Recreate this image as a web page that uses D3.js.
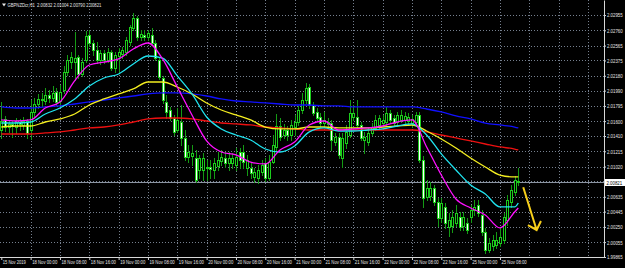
<!DOCTYPE html>
<html>
<head>
<meta charset="utf-8">
<script src="https://cdn.jsdelivr.net/npm/d3@7"></script>
<style>
  html, body { margin: 0; padding: 0; background: #000; }
  svg { display: block; }
  text { font-family: "Liberation Sans", Arial, sans-serif; }
</style>
</head>
<body>
<script>
// GBPNZDcr H1 bars, one row per hour: [open, high, low, close]
var candles = [
  [2.01487,2.01845,2.01385,2.01602], [2.01628,2.01666,2.01474,2.01525], [2.01525,2.01602,2.01462,2.01564], [2.01564,2.01602,2.01398,2.01538],
  [2.01525,2.01640,2.01449,2.01589], [2.01589,2.01628,2.01487,2.01564], [2.01551,2.01653,2.01500,2.01602], [2.01602,2.01628,2.01385,2.01449],
  [2.01487,2.01870,2.01372,2.01717], [2.01717,2.01896,2.01666,2.01819], [2.01819,2.01947,2.01768,2.01883], [2.01883,2.01960,2.01794,2.01870],
  [2.01857,2.02023,2.01819,2.01934], [2.01934,2.01998,2.01845,2.01896], [2.01896,2.02049,2.01857,2.01960], [2.01972,2.02023,2.01806,2.01845],
  [2.01857,2.02062,2.01819,2.01972], [2.01998,2.02304,2.01960,2.02228], [2.02228,2.02445,2.02190,2.02381], [2.02355,2.02483,2.02279,2.02419],
  [2.02355,2.02738,2.02125,2.02406], [2.02419,2.02445,2.02151,2.02202], [2.02202,2.02406,2.02177,2.02355], [2.02381,2.02751,2.02355,2.02687],
  [2.02700,2.02764,2.02560,2.02598], [2.02598,2.02636,2.02445,2.02509], [2.02509,2.02611,2.02343,2.02381], [2.02381,2.02509,2.02330,2.02470],
  [2.02470,2.02509,2.02343,2.02381], [2.02381,2.02534,2.02355,2.02483], [2.02483,2.02509,2.02253,2.02279], [2.02279,2.02483,2.02228,2.02445],
  [2.02432,2.02534,2.02228,2.02483], [2.02457,2.02547,2.02406,2.02509], [2.02483,2.02675,2.02445,2.02636], [2.02611,2.02828,2.02572,2.02802],
  [2.02789,2.02981,2.02764,2.02917], [2.02917,2.02943,2.02636,2.02675], [2.02675,2.02764,2.02636,2.02713], [2.02700,2.02764,2.02636,2.02675],
  [2.02675,2.02764,2.02636,2.02726], [2.02700,2.02789,2.02572,2.02598], [2.02598,2.02636,2.02381,2.02406], [2.02381,2.02406,2.02138,2.02164],
  [2.02151,2.02177,2.01832,2.01870], [2.01845,2.01934,2.01640,2.01717], [2.01742,2.01781,2.01615,2.01640], [2.01640,2.01679,2.01423,2.01462],
  [2.01487,2.01768,2.01462,2.01615], [2.01589,2.01806,2.01296,2.01385], [2.01385,2.01487,2.01104,2.01142], [2.01142,2.01296,2.01078,2.01206],
  [2.01155,2.01296,2.01040,2.01193], [2.01130,2.01232,2.00823,2.00849], [2.00976,2.01168,2.00874,2.01130], [2.00976,2.01193,2.00849,2.01130],
  [2.01015,2.01104,2.00849,2.01002], [2.01015,2.01104,2.00874,2.00989], [2.00976,2.01130,2.00874,2.01066], [2.01027,2.01206,2.00976,2.01104],
  [2.01091,2.01232,2.01040,2.01142], [2.01130,2.01206,2.01015,2.01066], [2.01066,2.01206,2.00976,2.01130], [2.01066,2.01193,2.01002,2.01130],
  [2.01040,2.01257,2.00976,2.01142], [2.01206,2.01257,2.01002,2.01104], [2.01206,2.01296,2.01002,2.01078], [2.01002,2.01168,2.00912,2.01104],
  [2.01002,2.01078,2.00874,2.00938], [2.00887,2.01002,2.00823,2.00951], [2.00874,2.01040,2.00810,2.00976], [2.00951,2.01104,2.00912,2.01040],
  [2.01066,2.01130,2.00836,2.00874], [2.00874,2.01168,2.00849,2.01078], [2.01078,2.01423,2.01066,2.01296], [2.01270,2.01691,2.01232,2.01538],
  [2.01538,2.01640,2.01359,2.01398], [2.01423,2.01564,2.01385,2.01487], [2.01487,2.01538,2.01359,2.01423], [2.01423,2.01615,2.01359,2.01551],
  [2.01525,2.01679,2.01423,2.01589], [2.01589,2.01794,2.01551,2.01742], [2.01742,2.01960,2.01704,2.01870], [2.01870,2.02087,2.01832,2.02023],
  [2.02036,2.02074,2.01768,2.01806], [2.01806,2.01845,2.01679,2.01704], [2.01717,2.01768,2.01615,2.01640], [2.01653,2.01704,2.01525,2.01576],
  [2.01576,2.01717,2.01525,2.01615], [2.01564,2.01640,2.01513,2.01589], [2.01576,2.01615,2.01232,2.01359], [2.01334,2.01449,2.01296,2.01398],
  [2.01398,2.01449,2.01130,2.01168], [2.01130,2.01449,2.01015,2.01385], [2.01321,2.01551,2.01257,2.01462], [2.01423,2.01870,2.01398,2.01704],
  [2.01653,2.01806,2.01615,2.01704], [2.01653,2.01870,2.01525,2.01551], [2.01551,2.01589,2.01359,2.01385], [2.01359,2.01462,2.01193,2.01398],
  [2.01334,2.01513,2.01296,2.01449], [2.01449,2.01576,2.01423,2.01525], [2.01513,2.01679,2.01487,2.01615], [2.01551,2.01679,2.01513,2.01640],
  [2.01576,2.01679,2.01538,2.01615], [2.01589,2.01781,2.01551,2.01704], [2.01704,2.01742,2.01589,2.01615], [2.01640,2.01679,2.01538,2.01576],
  [2.01589,2.01717,2.01551,2.01679], [2.01615,2.01742,2.01589,2.01679], [2.01615,2.01717,2.01564,2.01666], [2.01602,2.01704,2.01551,2.01653],
  [2.01576,2.01679,2.01525,2.01628], [2.01589,2.01717,2.01564,2.01679], [2.01679,2.01717,2.01078,2.01104], [2.01104,2.01155,2.00504,2.00619],
  [2.00631,2.00849,2.00593,2.00746], [2.00644,2.00823,2.00593,2.00746], [2.00746,2.00785,2.00529,2.00568], [2.00568,2.00619,2.00261,2.00363],
  [2.00363,2.00619,2.00312,2.00555], [2.00504,2.00555,2.00236,2.00300], [2.00249,2.00427,2.00134,2.00338], [2.00261,2.00466,2.00185,2.00376],
  [2.00300,2.00529,2.00261,2.00427], [2.00376,2.00440,2.00210,2.00249], [2.00261,2.00440,2.00210,2.00376], [2.00300,2.00363,2.00172,2.00210],
  [2.00376,2.00529,2.00312,2.00466], [2.00466,2.00593,2.00402,2.00504], [2.00529,2.00593,2.00389,2.00427], [2.00402,2.00466,2.00146,2.00185],
  [2.00185,2.00236,1.99917,1.99955], [1.99955,2.00108,1.99929,2.00044], [2.00006,2.00146,1.99955,2.00082], [2.00019,2.00185,1.99980,2.00082],
  [2.00044,2.00236,2.00006,2.00121], [2.00082,2.00427,2.00044,2.00376], [2.00338,2.00657,2.00274,2.00593], [2.00568,2.00785,2.00504,2.00721],
  [2.00695,2.00900,2.00657,2.00849], [2.00832,2.01004,2.00790,2.00821]
];

var symbol = "GBPNZDcr,H1";

// time labels, one every 8 bars
var timeLabels = ["15 Nov 2019", "18 Nov 00:00", "18 Nov 08:00", "18 Nov 16:00", "19 Nov 00:00", "19 Nov 08:00",
  "19 Nov 16:00", "20 Nov 00:00", "20 Nov 08:00", "20 Nov 16:00", "21 Nov 00:00", "21 Nov 08:00",
  "21 Nov 16:00", "22 Nov 00:00", "22 Nov 08:00", "22 Nov 16:00", "25 Nov 00:00", "25 Nov 08:00"];

// price scale labels
var priceTicks = [2.02955, 2.02760, 2.02565, 2.02375, 2.02180, 2.01990, 2.01795, 2.01600, 2.01410,
  2.01215, 2.01020, 2.00830, 2.00635, 2.00445, 2.00250, 2.00055, 1.99865];

// moving averages, read every 4 bars (and the last bar)
var maMagenta = [2.01615, 2.01602, 2.01615, 2.01768, 2.01845, 2.02113, 2.02317, 2.02355, 2.02394, 2.02521,
  2.02598, 2.02394, 2.02036, 2.01679, 2.01347, 2.01206, 2.01168, 2.01078, 2.01053, 2.01232, 2.01334, 2.01551,
  2.01602, 2.01487, 2.01500, 2.01513, 2.01538, 2.01589, 2.01615, 2.01270, 2.00912, 2.00606, 2.00491, 2.00402,
  2.00236, 2.00440, 2.00491];
var maCyan = [2.01576, 2.01576, 2.01589, 2.01691, 2.01768, 2.01883, 2.02049, 2.02151, 2.02202, 2.02330,
  2.02432, 2.02406, 2.02177, 2.01947, 2.01653, 2.01500, 2.01423, 2.01359, 2.01244, 2.01206, 2.01283, 2.01462,
  2.01513, 2.01474, 2.01474, 2.01487, 2.01500, 2.01538, 2.01564, 2.01423, 2.01181, 2.00976, 2.00785, 2.00670,
  2.00504, 2.00504, 2.00555];
var maYellow = [2.01525, 2.01538, 2.01538, 2.01589, 2.01628, 2.01691, 2.01806, 2.01883, 2.01947, 2.02011,
  2.02100, 2.02100, 2.02036, 2.01947, 2.01832, 2.01742, 2.01679, 2.01615, 2.01525, 2.01500, 2.01500, 2.01525,
  2.01525, 2.01513, 2.01513, 2.01513, 2.01525, 2.01538, 2.01551, 2.01474, 2.01372, 2.01257, 2.01130, 2.01015,
  2.00912, 2.00887, 2.00887];
var maBlue = [2.01781, 2.01768, 2.01768, 2.01781, 2.01794, 2.01819, 2.01845, 2.01870, 2.01896, 2.01921,
  2.01947, 2.01960, 2.01960, 2.01947, 2.01921, 2.01883, 2.01857, 2.01845, 2.01832, 2.01819, 2.01806, 2.01806,
  2.01794, 2.01794, 2.01781, 2.01781, 2.01781, 2.01781, 2.01781, 2.01755, 2.01717, 2.01666, 2.01628, 2.01576,
  2.01551, 2.01525, 2.01513];
var maRed = [2.01436, 2.01436, 2.01436, 2.01449, 2.01462, 2.01487, 2.01513, 2.01525, 2.01551, 2.01589,
  2.01628, 2.01640, 2.01640, 2.01628, 2.01602, 2.01576, 2.01564, 2.01551, 2.01525, 2.01513, 2.01500, 2.01487,
  2.01487, 2.01487, 2.01487, 2.01487, 2.01487, 2.01487, 2.01487, 2.01462, 2.01423, 2.01385, 2.01347, 2.01308,
  2.01270, 2.01244, 2.01232];

// hand drawn arrow: [bar, price] at start and tip
var arrowPts = [[142.35, 2.00755], [146.0, 2.00210]];

window.onload = function() {
  var breedte = 625, hoogte = 268;
  var plotR = 604, plotB = 257;
  var n = candles.length;
  var last = candles[n - 1];
  var fmt = d3.format(".5f");

  var svg = d3.select("body").append("svg")
      .attr("width", breedte)
      .attr("height", hoogte)
      .style("background", "#000");

  svg.append("defs").append("clipPath").attr("id", "plot")
    .append("rect").attr("x", 0).attr("y", 0).attr("width", plotR).attr("height", plotB);

  // bar index -> x, price -> y
  var x = d3.scaleLinear().domain([0, n - 1]).range([1.3, 518.3]);
  var y = d3.scaleLinear().domain([1.99865, 2.03147]).range([plotB, 0]);

  var labelBars = d3.range(0, 8 * timeLabels.length, 8);
  var gridBars = d3.range(8, 161, 8);
  var maBars = d3.range(0, n - 1, 4).concat([n - 1]);

  // squeeze small labels horizontally to the narrow terminal font
  function smal(sel, doel) {
    sel.each(function(d, i) {
      var t = d3.select(this);
      var s = doel(d, i) / this.getComputedTextLength();
      var x0 = +t.attr("x") || 0;
      t.attr("x", x0 / s).attr("transform", "scale(" + s + ",1)");
    });
  }

  // grid
  var grid = svg.append("g").attr("clip-path", "url(#plot)")
      .attr("stroke", "#76808f").attr("stroke-dasharray", "1,2")
      .attr("shape-rendering", "crispEdges");
  grid.selectAll("line.v").data(gridBars).enter().append("line")
      .attr("x1", function(d) { return Math.round(x(d)) + 0.5; })
      .attr("x2", function(d) { return Math.round(x(d)) + 0.5; })
      .attr("y1", 0).attr("y2", plotB);
  grid.selectAll("line.h").data(priceTicks).enter().append("line")
      .attr("x1", 0).attr("x2", plotR)
      .attr("y1", function(d) { return Math.round(y(d)) + 0.5; })
      .attr("y2", function(d) { return Math.round(y(d)) + 0.5; });

  // bid line
  svg.append("line")
      .attr("x1", 0).attr("x2", plotR)
      .attr("y1", Math.round(y(last[3])) + 0.5).attr("y2", Math.round(y(last[3])) + 0.5)
      .attr("stroke", "#8c95a3").attr("shape-rendering", "crispEdges");

  // candles
  var bars = svg.append("g").attr("clip-path", "url(#plot)").attr("shape-rendering", "crispEdges");
  bars.selectAll("line").data(candles).enter().append("line")
      .attr("x1", function(d, i) { return Math.round(x(i)) + 0.5; })
      .attr("x2", function(d, i) { return Math.round(x(i)) + 0.5; })
      .attr("y1", function(d) { return Math.round(y(d[1])); })
      .attr("y2", function(d) { return Math.round(y(d[2])) + 1; })
      .attr("stroke", "#149a14");
  bars.selectAll("rect").data(candles).enter().append("rect")
      .attr("x", function(d, i) { return Math.round(x(i)) - 0.5; })
      .attr("y", function(d) { return Math.round(y(Math.max(d[0], d[3]))) + 0.5; })
      .attr("width", 2)
      .attr("height", function(d) {
          return Math.max(0, Math.round(y(Math.min(d[0], d[3]))) - Math.round(y(Math.max(d[0], d[3])))); })
      .attr("fill", function(d) { return d[3] >= d[0] ? "#000" : "#fff"; })
      .attr("stroke", "#1ccc1c");

  // moving averages
  var lijn = d3.line()
      .x(function(d) { return x(d[0]); })
      .y(function(d) { return y(d[1]); })
      .curve(d3.curveMonotoneX);
  var series = [[maRed, "#ee1010"], [maBlue, "#1010ff"], [maYellow, "#f4ee20"], [maCyan, "#20e4f0"], [maMagenta, "#ff10ff"]];
  series.forEach(function(s) {
    svg.append("path")
        .datum(maBars.map(function(b, i) { return [b, s[0][i]]; }))
        .attr("d", lijn)
        .attr("fill", "none")
        .attr("stroke", s[1])
        .attr("stroke-width", 1.3);
  });

  // arrow
  var p0 = [x(arrowPts[0][0]), y(arrowPts[0][1])];
  var p1 = [x(arrowPts[1][0]), y(arrowPts[1][1])];
  var hoek = Math.atan2(p1[1] - p0[1], p1[0] - p0[0]);
  var kop = function(a) { return [p1[0] - 10 * Math.cos(hoek + a), p1[1] - 10 * Math.sin(hoek + a)]; };
  svg.append("path")
      .attr("d", "M" + p0 + "L" + p1 + "M" + kop(0.75) + "L" + p1 + "L" + kop(-0.75))
      .attr("fill", "none")
      .attr("stroke", "#f7cf1a")
      .attr("stroke-width", 2)
      .attr("stroke-linejoin", "miter");

  // price axis
  var asY = d3.axisRight(y)
      .tickValues(priceTicks)
      .tickSize(2)
      .tickSizeOuter(0)
      .tickPadding(1)
      .tickFormat(fmt);
  var gy = svg.append("g")
      .attr("transform", "translate(" + plotR + ",0)")
      .call(asY);
  gy.select(".domain").attr("stroke", "#d8d8d8");
  gy.selectAll(".tick line").attr("stroke", "#d8d8d8");
  gy.selectAll(".tick text")
      .attr("fill", "#e6e6e6")
      .attr("font-size", "6px")
      .call(smal, function() { return 15.7; });

  // time axis
  var asX = d3.axisBottom(x)
      .tickValues(labelBars)
      .tickSize(3)
      .tickFormat(function(d, i) { return timeLabels[i]; });
  var gx = svg.append("g")
      .attr("transform", "translate(0," + plotB + ")")
      .call(asX);
  gx.select(".domain").remove();
  gx.selectAll(".tick line").attr("stroke", "#d8d8d8");
  gx.selectAll(".tick text")
      .attr("fill", "#e6e6e6")
      .attr("font-size", "6px")
      .attr("text-anchor", "start")
      .attr("x", 1)
      .attr("y", 2.5)
      .call(smal, function(d, i) { return timeLabels[i].length * 2.1; });
  svg.append("line")
      .attr("x1", 0).attr("x2", plotR + 0.5)
      .attr("y1", plotB + 0.5).attr("y2", plotB + 0.5)
      .attr("stroke", "#d8d8d8").attr("shape-rendering", "crispEdges");

  // current price box
  var by = Math.round(y(last[3]));
  svg.append("rect")
      .attr("x", plotR + 1).attr("y", by - 3).attr("width", 20).attr("height", 7)
      .attr("fill", "#fff");
  svg.append("text")
      .attr("x", plotR + 2.5).attr("y", by + 2.6)
      .attr("font-size", "6px")
      .attr("fill", "#000")
      .text(fmt(last[3]))
      .call(smal, function() { return 15.7; });

  // title
  svg.append("path")
      .attr("d", "M2,3.5L6,3.5L4,6.5Z")
      .attr("fill", "#e6e6e6");
  var titel = symbol + "  " + last.map(fmt).join(" ");
  svg.append("text")
      .attr("x", 7.5).attr("y", 7)
      .attr("font-size", "6px")
      .attr("fill", "#e6e6e6")
      .attr("xml:space", "preserve")
      .text(titel)
      .call(smal, function() { return 94; });
};
</script>
</body>
</html>
